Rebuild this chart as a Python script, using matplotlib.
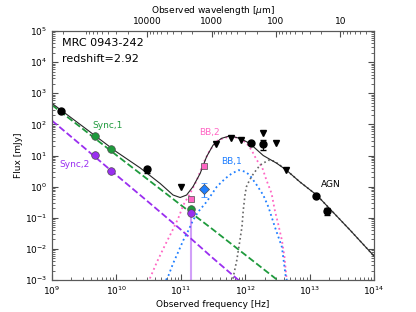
import numpy as np
import matplotlib.pyplot as plt
from matplotlib.ticker import FixedLocator, NullFormatter, FuncFormatter

# photometry (observed frame), frequency in Hz, flux in mJy
det_nu = [1.38e9, 3.0e10, 1.22e12, 1.86e12, 1.26e13, 1.86e13]
det_flux = [270, 3.6, 24.5, 23.4, 0.50, 0.16]
det_err = [0, 0.8, 0, 8, 0, 0.04]

lim_nu = [1.0e11, 3.47e11, 6.0e11, 8.7e11, 1.86e12, 3.0e12, 4.3e12]
lim_flux = [1.0, 23.8, 37, 31, 52, 26, 3.4]

sync1_nu = [4.66e9, 8.24e9, 1.44e11]
sync1_flux = [41.7, 16.2, 0.195]
sync2_nu = [4.66e9, 8.24e9, 1.44e11]
sync2_flux = [10.2, 3.2, 0.14]
bb2_nu = [1.44e11, 2.29e11]
bb2_flux = [0.41, 4.7]
bb1_nu = [2.29e11]
bb1_flux = [0.81]
bb1_lo = [0.36]
bb1_hi = [0.45]

# model curves (log10 nu, log10 flux)
sync1_lx = [9.0, 9.5, 10.0, 10.5, 11.0, 11.5, 12.0, 12.5]
sync1_ly = [2.62, 1.82, 1.01, 0.21, -0.59, -1.38, -2.19, -3.0]
sync2_lx = [9.0, 9.5, 10.0, 10.5, 11.0, 11.5, 11.95]
sync2_ly = [2.12, 1.25, 0.37, -0.50, -1.38, -2.30, -3.1]
bb1_lx = [10.77, 10.81, 10.88, 10.96, 11.04, 11.12, 11.19, 11.27, 11.40, 11.56,
          11.69, 11.79, 11.90, 12.0, 12.07, 12.18, 12.28, 12.36, 12.46, 12.57, 12.63, 12.66]
bb1_ly = [-3.0, -2.85, -2.47, -2.10, -1.72, -1.40, -1.08, -0.81, -0.49, 0.0,
          0.26, 0.42, 0.53, 0.48, 0.37, 0.05, -0.27, -0.65, -1.29, -1.94, -2.9, -3.1]
bb2_lx = [10.50, 10.52, 10.63, 10.755, 10.86, 10.96, 11.04, 11.15, 11.25, 11.35, 11.45,
          11.58, 11.71, 11.80, 11.92, 12.02, 12.10, 12.18, 12.26, 12.33, 12.41, 12.46,
          12.51, 12.57, 12.61, 12.64, 12.66]
bb2_ly = [-3.1, -2.95, -2.42, -1.88, -1.45, -1.02, -0.59, -0.20, 0.21, 0.75, 1.17,
          1.50, 1.58, 1.60, 1.55, 1.40, 1.17, 0.85, 0.64, 0.21, -0.22, -0.76,
          -1.18, -1.72, -2.26, -2.9, -3.1]
agn_lx = [11.80, 11.815, 11.87, 11.91, 11.95, 11.97, 12.0, 12.02, 12.07, 12.13, 12.23,
          12.36, 12.45, 12.54, 12.64, 12.85, 13.11, 13.63, 14.0]
agn_ly = [-3.1, -2.90, -2.36, -1.83, -1.29, -0.76, -0.22, 0.0, 0.22, 0.42, 0.69,
          0.85, 0.82, 0.69, 0.53, 0.15, -0.27, -1.40, -2.23]
tot_lx = [9.0, 9.5, 10.0, 10.37, 10.68, 10.88, 10.99, 11.09, 11.19, 11.30, 11.40,
          11.50, 11.63, 11.76, 11.92, 12.07, 12.28, 12.49, 12.64, 12.85, 13.11, 13.63, 14.0]
tot_ly = [2.675, 1.90, 1.12, 0.60, 0.10, -0.27, -0.35, -0.27, 0.0, 0.42, 0.96,
          1.33, 1.55, 1.63, 1.55, 1.39, 1.0, 0.75, 0.53, 0.15, -0.27, -1.40, -2.23]

wave_ticks = [10000, 1000, 100, 10]

green = '#1e9a3c'
purple = '#9a2ef0'
pink = '#ff66c4'
blue = '#1f7fff'

plt.rcParams['font.family'] = 'DejaVu Sans'
fig = plt.figure(figsize=(4.16, 3.12), dpi=100)
ax = fig.add_axes([0.125, 0.1026, 0.774, 0.798])

def lin(a):
    return 10 ** np.array(a)

ax.plot(lin(sync1_lx), lin(sync1_ly), '--', color=green, lw=1.3)
ax.plot(lin(sync2_lx), lin(sync2_ly), '--', color=purple, lw=1.3)
ax.plot(lin(bb2_lx), lin(bb2_ly), ':', color=pink, lw=1.3)
ax.plot(lin(bb1_lx), lin(bb1_ly), ':', color=blue, lw=1.3)
ax.plot(lin(agn_lx), lin(agn_ly), ':', color='0.4', lw=1.2)
ax.plot(lin(tot_lx), lin(tot_ly), '-', color='0.15', lw=0.8)

# purple point error reaching down to the axis
ax.vlines(sync2_nu[2], 1e-4, sync2_flux[2], color=purple, alpha=0.45, lw=1.5)

err_idx = [i for i, e in enumerate(det_err) if e > 0]
ax.errorbar([det_nu[i] for i in err_idx], [det_flux[i] for i in err_idx],
            yerr=[det_err[i] for i in err_idx], fmt='none', ecolor='k', capsize=2,
            elinewidth=0.8)
ax.plot(det_nu, det_flux, 'o', color='k', ms=5, ls='none')
ax.plot(lim_nu, lim_flux, 'v', color='k', ms=5, ls='none')
ax.plot(sync1_nu, sync1_flux, 'o', color=green, mec='0.3', mew=0.5, ms=5.5, ls='none')
ax.plot(sync2_nu, sync2_flux, 'o', color=purple, mec='0.3', mew=0.5, ms=5.5, ls='none')
ax.plot(bb2_nu, bb2_flux, 's', color=pink, mec='0.3', mew=0.5, ms=5, ls='none')
ax.errorbar(bb1_nu, bb1_flux, yerr=[bb1_lo, bb1_hi], fmt='D', color=blue, mec='0.3',
            mew=0.5, ms=5, capsize=2, elinewidth=0.8)

ax.set_xscale('log')
ax.set_yscale('log')
ax.set_xlim(1e9, 1e14)
ax.set_ylim(1e-3, 1e5)
ax.set_xlabel('Observed frequency [Hz]', fontsize=6.5, labelpad=2)
ax.set_ylabel('Flux [mJy]', fontsize=6.5, labelpad=1)
ax.tick_params(which='both', direction='in', top=False, right=True, labelsize=6.5,
               color='0.3')
ax.tick_params(which='major', length=4)
ax.tick_params(which='minor', length=2)
for s in ax.spines.values():
    s.set_color('0.35')

# wavelength axis on top: lambda[um] = c / nu
top = ax.twiny()
top.set_xscale('log')
top.set_xlim(3e14 / 1e9, 3e14 / 1e14)
top.xaxis.set_major_locator(FixedLocator(wave_ticks))
top.xaxis.set_major_formatter(FuncFormatter(lambda v, p: '%d' % round(v)))
top.xaxis.set_minor_formatter(NullFormatter())
top.tick_params(which='both', direction='in', labelsize=6.5, color='0.3')
top.tick_params(which='major', length=4)
top.tick_params(which='minor', length=2)
top.set_xlabel('Observed wavelength [$\\mu$m]', fontsize=6.5, labelpad=3)
for s in top.spines.values():
    s.set_color('0.35')

ax.text(0.03, 0.952, 'MRC 0943-242', transform=ax.transAxes, fontsize=8, va='center')
ax.text(0.03, 0.886, 'redshift=2.92', transform=ax.transAxes, fontsize=8, va='center')
ax.text(7.3e9, 90, 'Sync,1', color=green, fontsize=6.5, ha='center', va='center')
ax.text(2.2e9, 5.2, 'Sync,2', color=purple, fontsize=6.5, ha='center', va='center')
ax.text(2.79e11, 56, 'BB,2', color=pink, fontsize=6.5, ha='center', va='center')
ax.text(6.1e11, 6.3, 'BB,1', color=blue, fontsize=6.5, ha='center', va='center')
ax.text(2.14e13, 1.2, 'AGN', color='k', fontsize=6.5, ha='center', va='center')

fig.savefig('out.png', dpi=100)
